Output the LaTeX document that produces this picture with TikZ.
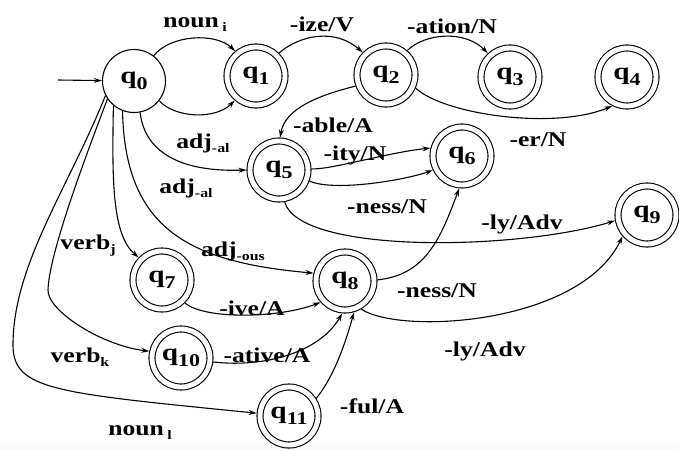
\documentclass[tikz,border=0pt]{standalone}
\usepackage{fontspec}
\setmainfont[FakeStretch=1.22]{Liberation Serif}
\usetikzlibrary{arrows.meta}
\definecolor{bandcol}{RGB}{249,250,245}
\newcommand\lsub[1]{\raisebox{-4pt}{\fontsize{13}{13}\selectfont #1}}
\newcommand\qlab[1]{{\fontsize{24}{24}\selectfont q}\raisebox{-6pt}{\fontsize{18}{18}\selectfont #1}}
\begin{document}
\begin{tikzpicture}[x=1pt,y=-1pt,
  every node/.style={font=\bfseries\fontsize{21}{23}\selectfont},
  lbl/.style={inner sep=0pt},
  initstate/.style={circle,draw,line width=1.1pt,minimum size=63pt,inner sep=0pt},
  accstate/.style={circle,draw,line width=1.1pt,double,double distance=4.9pt,minimum size=58pt,inner sep=0pt,outer sep=3.5pt},
  conn/.style={line width=1.1pt,-{Stealth[length=8pt,width=5pt]}}
]
\useasboundingbox (0,0) rectangle (679,450);
\fill[bandcol] (0,443) rectangle (679,450);

% states
\node[initstate] (q0) at (134,81) {\qlab{0}};
\node[accstate] (q1) at (256,76) {\qlab{1}};
\node[accstate] (q2) at (386,75) {\qlab{2}};
\node[accstate] (q3) at (510,77) {\qlab{3}};
\node[accstate] (q4) at (627,77) {\qlab{4}};
\node[accstate] (q5) at (279,170) {\qlab{5}};
\node[accstate] (q6) at (462,156) {\qlab{6}};
\node[accstate] (q7) at (162,280) {\qlab{7}};
\node[accstate] (q8) at (345,281) {\qlab{8}};
\node[accstate] (q9) at (647,215) {\qlab{9}};
\node[accstate] (q10) at (181,358) {\qlab{10}};
\node[accstate] (q11) at (289,416) {\qlab{11}};
\coordinate (init) at (58,80);

% labels
\node[lbl] (lnouni) at (195,25) {noun\,\lsub{i}};
\node[lbl] (lize) at (322,24) {-ize/V};
\node[lbl] (lation) at (452,26) {-ation/N};
\node[lbl] (lable) at (333,125) {-able/A};
\node[lbl] (ladja) at (203,143) {adj\lsub{-al}};
\node[lbl] (ladjb) at (186,188) {adj\lsub{-al}};
\node[lbl] (lity) at (355,155) {-ity/N};
\node[lbl] (lnessa) at (387,207) {-ness/N};
\node[lbl] (ler) at (538,140) {-er/N};
\node[lbl] (llya) at (522,224) {-ly/Adv};
\node[lbl] (lverbj) at (88,246) {verb\lsub{j}};
\node[lbl] (ladjous) at (233,251) {adj\lsub{-ous}};
\node[lbl] (live) at (252,308) {-ive/A};
\node[lbl] (lnessb) at (437,291) {-ness/N};
\node[lbl] (llyb) at (485,351) {-ly/Adv};
\node[lbl] (lverbk) at (80,357) {verb\lsub{k}};
\node[lbl] (lative) at (267,355) {-ative/A};
\node[lbl] (lful) at (372,406) {-ful/A};
\node[lbl] (lnounl) at (140,433) {noun\,\lsub{l}};

% connectors
\draw[conn] (init) -- (q0);
\draw[conn] (q0.52) .. controls (170,35) and (215,32) .. (q1.130);
\draw[conn] (q0.-38) .. controls (175,118) and (215,120) .. (q1.229);
\draw[conn] (q1.45) .. controls (300,35) and (335,28) .. (q2.136);
\draw[conn] (q2.49) .. controls (425,33) and (465,30) .. (q3.133);
\draw[conn] (q2.-24) .. controls (445,115) and (555,130) .. (q4.-117);
\draw[conn] (q2.200) .. controls (320,95) and (285,108) .. (q5.88);
\draw[conn] (q0.-79) .. controls (145,155) and (185,172) .. (q5.180);
\draw[conn] (q5.2) .. controls (330,170) and (390,152) .. (q6.166);
\draw[conn] (q5.-20) .. controls (335,192) and (405,180) .. (q6.206);
\draw[conn] (q5.-80) .. controls (300,255) and (520,250) .. (q9.190);
\draw[conn] (q0.-130) .. controls (112,180) and (112,235) .. (q7.136);
\draw[conn] (q0.-111) .. controls (125,230) and (190,262) .. (q8.166);
\draw[conn] (q0.-146) .. controls (82,166) and (49,255) .. (48,290)
   .. controls (47,310) and (100,345) .. (q10.168);
\draw[conn] (q0.-153) .. controls (68,189) and (13,265) .. (13,345)
   .. controls (13,390) and (55,393) .. (q11.175);
\draw[conn] (q7.-45) .. controls (205,320) and (280,318) .. (q8.221);
\draw[conn] (q10.-7) .. controls (265,368) and (320,352) .. (q8.265);
\draw[conn] (q11.33) .. controls (333,378) and (345,345) .. (q8.-74);
\draw[conn] (q8.2) .. controls (425,275) and (440,240) .. (q6.-95);
\draw[conn] (q8.-60) .. controls (400,335) and (580,325) .. (q9.221);
\end{tikzpicture}
\end{document}
